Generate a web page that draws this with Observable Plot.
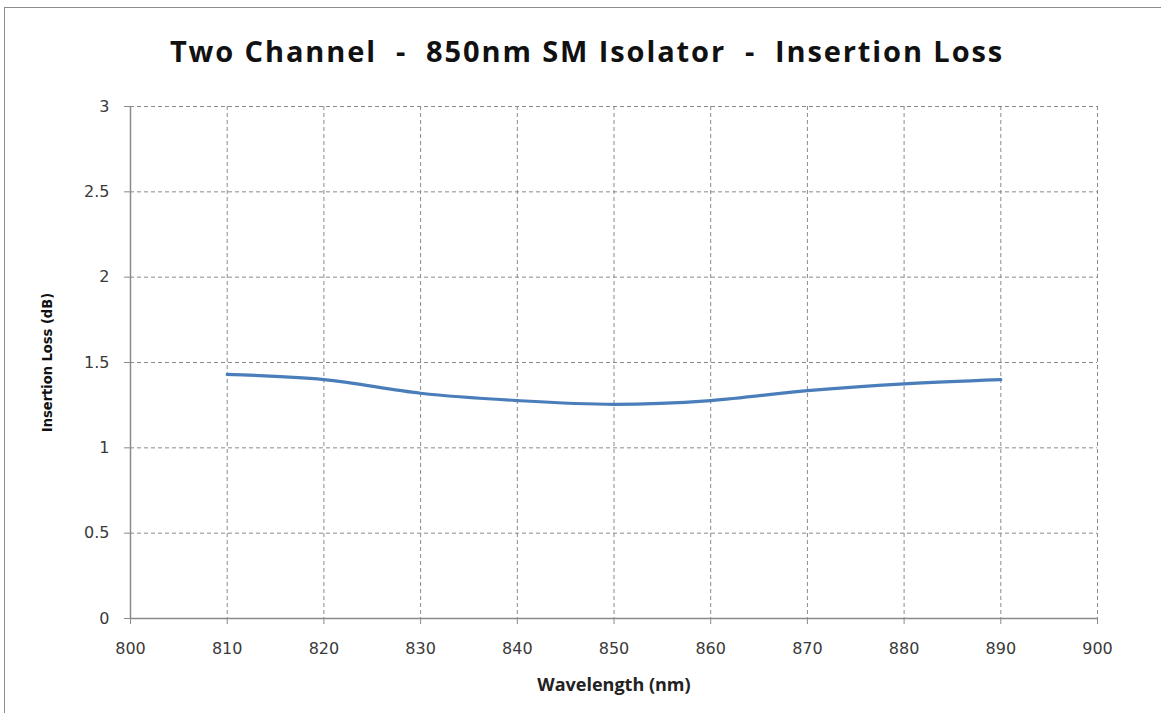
<!DOCTYPE html>
<html>
<head>
<meta charset="utf-8">
<script src="https://cdn.jsdelivr.net/npm/d3@7"></script>
<script src="https://cdn.jsdelivr.net/npm/@observablehq/plot@0.6"></script>
<style>
  html, body { margin: 0; padding: 0; background: #fff; }
  body { width: 1161px; height: 713px; position: relative; overflow: hidden; }
  #frame { position: absolute; left: 4px; top: 7px; width: 1170px; height: 720px;
           border-left: 1.5px solid #8c8c8c; border-top: 1.5px solid #8c8c8c; box-sizing: border-box; }
  #title { position: absolute; left: 0; width: 1174px; top: 31px; text-align: center;
           font-family: "Open Sans", Lato, sans-serif; font-weight: bold; font-size: 29px;
           letter-spacing: 1.9px; color: #111; white-space: pre; line-height: 40px; }
  #chart { position: absolute; left: 0; top: 80px; }
</style>
</head>
<body>
<div id="frame"></div>
<div id="title">Two Channel  -  850nm SM Isolator  -  Insertion Loss</div>
<div id="chart"></div>
<script>
const wavelengths = [810, 820, 830, 840, 850, 860, 870, 880, 890];
const insertionLoss = [1.43, 1.40, 1.32, 1.277, 1.255, 1.277, 1.335, 1.375, 1.40];
const xTicks = [800, 810, 820, 830, 840, 850, 860, 870, 880, 890, 900];
const yTicks = [0, 0.5, 1, 1.5, 2, 2.5, 3];
const xTitle = "Wavelength (nm)";
const yTitle = "Insertion Loss (dB)";

const data = wavelengths.map((w, i) => ({w, v: insertionLoss[i]}));
const gridColor = "#8a8a8a";

const chart = Plot.plot({
  width: 1161,
  height: 633,
  marginLeft: 130,
  marginRight: 64,
  marginTop: 26,
  marginBottom: 95,
  style: {fontFamily: "'DejaVu Sans', Verdana, sans-serif", fontSize: "16px", color: "#3a3a3a", background: "transparent"},
  x: {domain: [800, 900], ticks: xTicks, tickFormat: d => String(d), label: null},
  y: {domain: [0, 3], ticks: yTicks, tickFormat: d => String(d), label: null},
  marks: [
    Plot.ruleX(xTicks.filter(d => d > 800), {stroke: gridColor, strokeDasharray: "4,3", strokeWidth: 1}),
    Plot.ruleY(yTicks.filter(d => d > 0), {stroke: gridColor, strokeDasharray: "4,3", strokeWidth: 1}),
    Plot.axisX({ticks: xTicks, tickSize: 6, tickPadding: 18, stroke: gridColor, tickFormat: d => String(d), label: null}),
    Plot.axisY({ticks: yTicks, tickSize: 6, tickPadding: 15, stroke: gridColor, tickFormat: d => String(d), label: null}),
    Plot.ruleX([800], {stroke: gridColor, strokeWidth: 1.5}),
    Plot.ruleY([0], {stroke: gridColor, strokeWidth: 1.5}),
    Plot.line(data, {x: "w", y: "v", curve: "catmull-rom", stroke: "#4a7ebb", strokeWidth: 3.2}),
    Plot.text([xTitle], {frameAnchor: "bottom", dy: 67, text: d => d, fontWeight: "bold",
      fontFamily: "'Open Sans', Lato, sans-serif", fontSize: 18, fill: "#222", lineAnchor: "middle",
      textAnchor: "middle", letterSpacing: "0.5px"}),
    Plot.text([yTitle], {frameAnchor: "left", dx: -83, text: d => d, rotate: -90, fontWeight: "bold",
      fontFamily: "'DejaVu Sans Condensed', 'Liberation Sans Narrow', Lato, sans-serif", fontSize: 14.5,
      fill: "#111", lineAnchor: "middle", textAnchor: "middle"})
  ]
});
document.getElementById("chart").appendChild(chart);
</script>
</body>
</html>
